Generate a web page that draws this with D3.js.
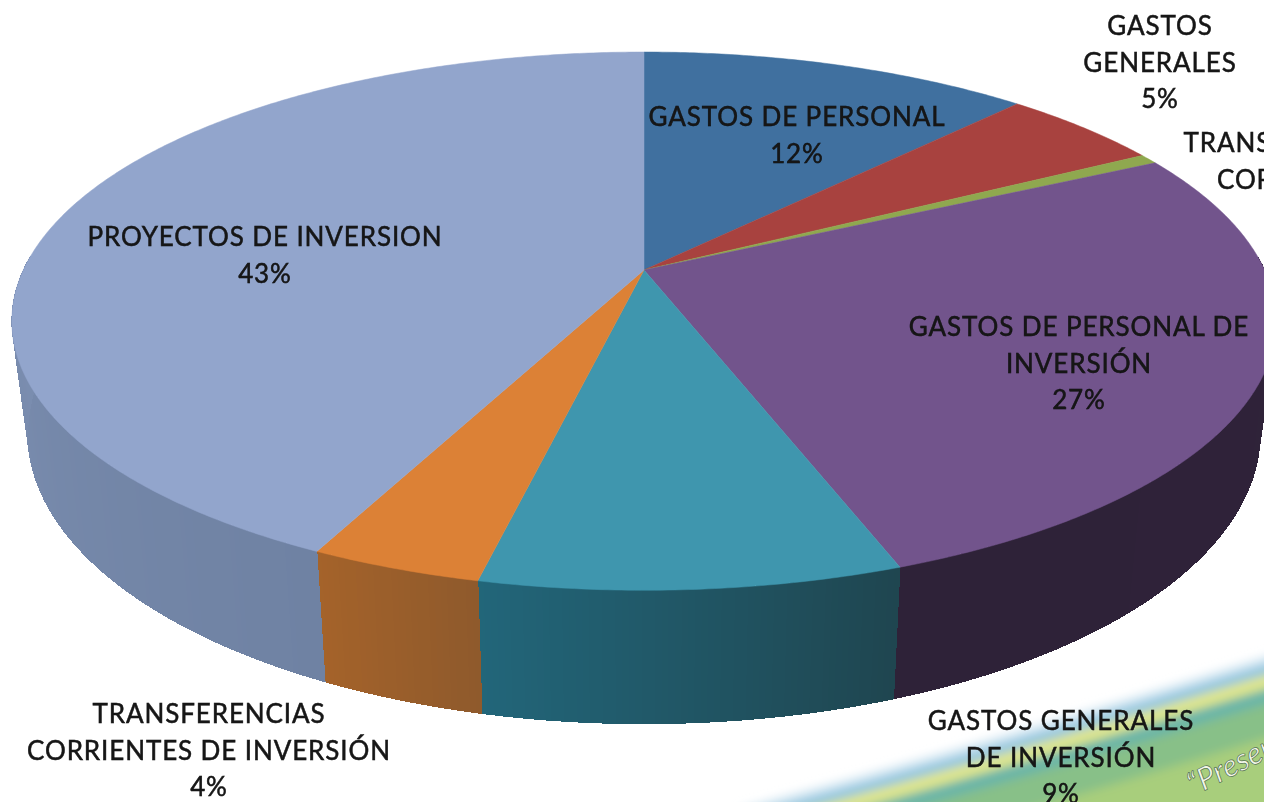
<!DOCTYPE html>
<html>
<head>
<meta charset="utf-8">
<script src="https://cdn.jsdelivr.net/npm/d3@7"></script>
<style>
  html, body { margin: 0; padding: 0; background: #fff; overflow: hidden; }
  svg { display: block; }
  text { font-family: Lato, "Open Sans", sans-serif; fill: #141414; text-anchor: middle; }
</style>
</head>
<body>
<svg id="chart" width="1264" height="802"></svg>
<script>
// Chart data
let categories = ["GASTOS DE PERSONAL", "GASTOS GENERALES", "TRANSFERENCIAS CORRIENTES",
  "GASTOS DE PERSONAL DE INVERSIÓN", "GASTOS GENERALES DE INVERSIÓN",
  "TRANSFERENCIAS CORRIENTES DE INVERSIÓN", "PROYECTOS DE INVERSION"];
let shares = [12, 5, 0.6, 26.9, 9.0, 3.7, 42.8];
let pctLabels = ["12%", "5%", "0%", "27%", "9%", "4%", "43%"];

// Colours per slice
let topColors = ["#40709f", "#a8423f", "#8fa84f", "#72548c", "#3f96ae", "#dc8136", "#92a5cc"];
let wallStart = ["#27405f", "#5f2523", "#4f5e2b", "#30233a", "#1f4650", "#8f5a2c", "#6f82a3"];
let wallEnd = ["#27405f", "#5f2523", "#4f5e2b", "#2e2238", "#22667a", "#a5632a", "#8c9ec2"];

// Labels are broken as in the reference
let labelLines = [
  ["GASTOS DE PERSONAL"],
  ["GASTOS", "GENERALES"],
  ["TRANSFERENCIAS", "CORRIENTES"],
  ["GASTOS DE PERSONAL DE", "INVERSIÓN"],
  ["GASTOS GENERALES", "DE INVERSIÓN"],
  ["TRANSFERENCIAS", "CORRIENTES DE INVERSIÓN"],
  ["PROYECTOS DE INVERSION"]
];
let labelX = [797, 1160, 1300, 1079, 1061, 209, 265];
let labelY = [126, 35, 152, 336, 730, 723, 246];

const svg = d3.select("#chart");
const defs = svg.append("defs");
defs.append("filter").attr("id", "soft").append("feGaussianBlur").attr("stdDeviation", 0.5);
defs.append("filter").attr("id", "bandBlur")
  .attr("x", "-10%").attr("y", "-20%").attr("width", "120%").attr("height", "140%")
  .append("feGaussianBlur").attr("stdDeviation", 5);

// Background swoosh from the slide template, bottom right corner
let swoosh = svg.append("g").attr("filter", "url(#bandBlur)");
function band(offset, color) {
  let left = 740, right = 1300;
  let yAt = x => 810 - (x - left) * 0.29 + offset;
  swoosh.append("path")
    .attr("d", `M${left},${yAt(left)} Q${(left + right) / 2},${yAt((left + right) / 2) + 6} ${right},${yAt(right)} L${right},850 L${left},850 Z`)
    .attr("fill", color);
}
band(-2, "#d6e8f3");
band(6, "#93c6df");
band(17, "#dfe68c");
band(31, "#6ab5a8");
band(46, "#88c088");
band(80, "#a8ce7c");

svg.append("text")
  .attr("transform", "translate(1194,796) rotate(-27)")
  .attr("font-size", 31).attr("font-style", "italic")
  .style("text-anchor", "start").style("fill", "#f2f7ea")
  .style("stroke", "#52704f").style("stroke-width", 0.7)
  .text("“Presente");

// Perspective of the disc: sin/cos of the pie angle go to screen x/y
const k = 0.19;
const xTop = d3.scaleLinear().domain([-1, 1]).range([644 - 620.6, 644 + 620.6]);
const yTop = d3.scaleLinear().domain([-1, 1]).range([270 + 259.4, 270 - 259.4]);
const xLow = d3.scaleLinear().domain([-1, 1]).range([644 - 605, 644 + 605]);
const yLow = d3.scaleLinear().domain([-1, 1]).range([378 + 280, 378 - 280]);

function rim(a, sx, sy) {
  let w = 1 + k * Math.cos(a);
  return [sx(Math.sin(a) / w), sy(Math.cos(a) / w)];
}

let arcs = d3.pie().sort(null).value(d => d)(shares);
const step = Math.PI / 360;
const line = d3.line();

// Side wall, thin strips so the shade can run along the rim
let wall = svg.append("g").attr("shape-rendering", "crispEdges");
arcs.forEach((d, i) => {
  let shade = d3.scaleLinear().domain([d.startAngle, d.endAngle]).range([wallStart[i], wallEnd[i]]);
  for (let a = d.startAngle; a < d.endAngle; a += step) {
    let b = Math.min(a + step, d.endAngle);
    if (Math.cos(a) > 0.05) continue;
    wall.append("path")
      .attr("d", line([rim(a, xTop, yTop), rim(b, xTop, yTop), rim(b, xLow, yLow), rim(a, xLow, yLow)]) + "Z")
      .attr("fill", shade(a))
      .attr("stroke", shade(a))
      .attr("stroke-width", 1);
  }
});

// Top of the disc
svg.append("g").selectAll("path")
  .data(arcs)
  .join("path")
  .attr("d", d => {
    let pts = [[xTop(0), yTop(0)]];
    for (let a = d.startAngle; a < d.endAngle; a += step) pts.push(rim(a, xTop, yTop));
    pts.push(rim(d.endAngle, xTop, yTop));
    return line(pts) + "Z";
  })
  .attr("fill", (d, i) => topColors[i])
  .attr("stroke", (d, i) => topColors[i])
  .attr("stroke-width", 0.5);

// Labels
let labels = svg.append("g").attr("filter", "url(#soft)");
categories.forEach((name, i) => {
  let t = labels.append("text")
    .attr("font-size", 26)
    .attr("letter-spacing", 0.9)
    .style("stroke", "#141414").style("stroke-width", 0.5)
    .attr("data-category", name);
  labelLines[i].concat([pctLabels[i]]).forEach((s, j) => {
    t.append("tspan").attr("x", labelX[i]).attr("y", labelY[i] + j * 36.5).text(s);
  });
});
</script>
</body>
</html>
